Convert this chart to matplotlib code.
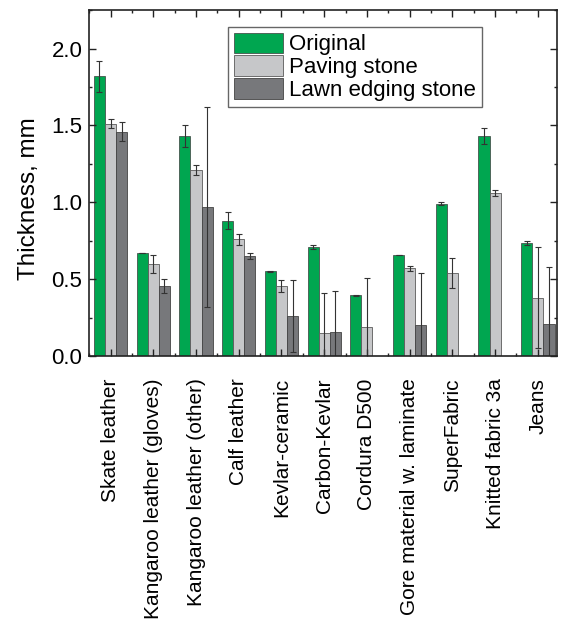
import numpy as np
import matplotlib.pyplot as plt
from matplotlib.ticker import MultipleLocator

plt.rcParams['font.family'] = ['Liberation Sans', 'DejaVu Sans']

categories = ["Skate leather", "Kangaroo leather (gloves)", "Kangaroo leather (other)",
              "Calf leather", "Kevlar-ceramic", "Carbon-Kevlar", "Cordura D500",
              "Gore material w. laminate", "SuperFabric", "Knitted fabric 3a", "Jeans"]

original = [1.82, 0.67, 1.43, 0.88, 0.55, 0.71, 0.395, 0.66, 0.99, 1.43, 0.735]
original_err = [0.10, 0.0, 0.07, 0.055, 0.005, 0.015, 0.005, 0.0, 0.01, 0.05, 0.015]

paving = [1.51, 0.60, 1.21, 0.76, 0.455, 0.15, 0.19, 0.57, 0.54, 1.06, 0.38]
paving_err = [0.03, 0.06, 0.03, 0.035, 0.04, 0.26, 0.32, 0.015, 0.095, 0.02, 0.33]

lawn = [1.46, 0.455, 0.97, 0.65, 0.26, 0.155, np.nan, 0.20, np.nan, np.nan, 0.21]
lawn_err = [0.06, 0.045, 0.65, 0.02, 0.235, 0.27, np.nan, 0.34, np.nan, np.nan, 0.37]

fig = plt.figure(figsize=(5.61, 6.29), dpi=100)
ax = fig.add_axes([0.159, 0.434, 0.834, 0.55])

x = np.arange(len(categories))
w = 0.26
err_kw = dict(ecolor='#333333', elinewidth=0.8, capsize=2.5, capthick=0.8)
ax.bar(x - w, original, w, yerr=original_err, color='#00a650', edgecolor='#3a3a3a',
       linewidth=0.5, error_kw=err_kw, label="Original")
ax.bar(x, paving, w, yerr=paving_err, color='#c6c7c9', edgecolor='#5a5a5a',
       linewidth=0.6, error_kw=err_kw, label="Paving stone")
ax.bar(x + w, lawn, w, yerr=lawn_err, color='#77787b', edgecolor='#444444',
       linewidth=0.6, error_kw=err_kw, label="Lawn edging stone")

ax.set_xlim(-0.5, 10.45)
ax.set_ylim(0, 2.25)
ax.set_xticks(x)
ax.set_xticklabels(categories, rotation=90, fontsize=15)
ax.xaxis.set_minor_locator(MultipleLocator(0.5))
ax.yaxis.set_major_locator(MultipleLocator(0.5))
ax.yaxis.set_minor_locator(MultipleLocator(0.25))
ax.yaxis.set_major_formatter(plt.FormatStrFormatter('%.1f'))
ax.tick_params(which='both', direction='in', top=True, right=True, width=1, color='#222222')
ax.tick_params(which='major', length=5)
ax.tick_params(which='minor', length=2.5)
ax.tick_params(axis='x', which='major', pad=16)
ax.tick_params(axis='y', labelsize=16, pad=5)
for s in ax.spines.values():
    s.set_linewidth(1.2)
    s.set_color('#222222')

ax.set_ylabel("Thickness, mm", fontsize=17.5)
ax.yaxis.set_label_coords(-0.105, 0.455)

leg = ax.legend(loc='upper left', bbox_to_anchor=(0.297, 0.951), fontsize=16,
                fancybox=False, framealpha=1, edgecolor='#666666',
                handlelength=2.2, handleheight=1.05, labelspacing=0.0,
                handletextpad=0.3, borderpad=0.25, borderaxespad=0)
leg.get_frame().set_linewidth(1.0)

fig.savefig("out.png", dpi=100)
